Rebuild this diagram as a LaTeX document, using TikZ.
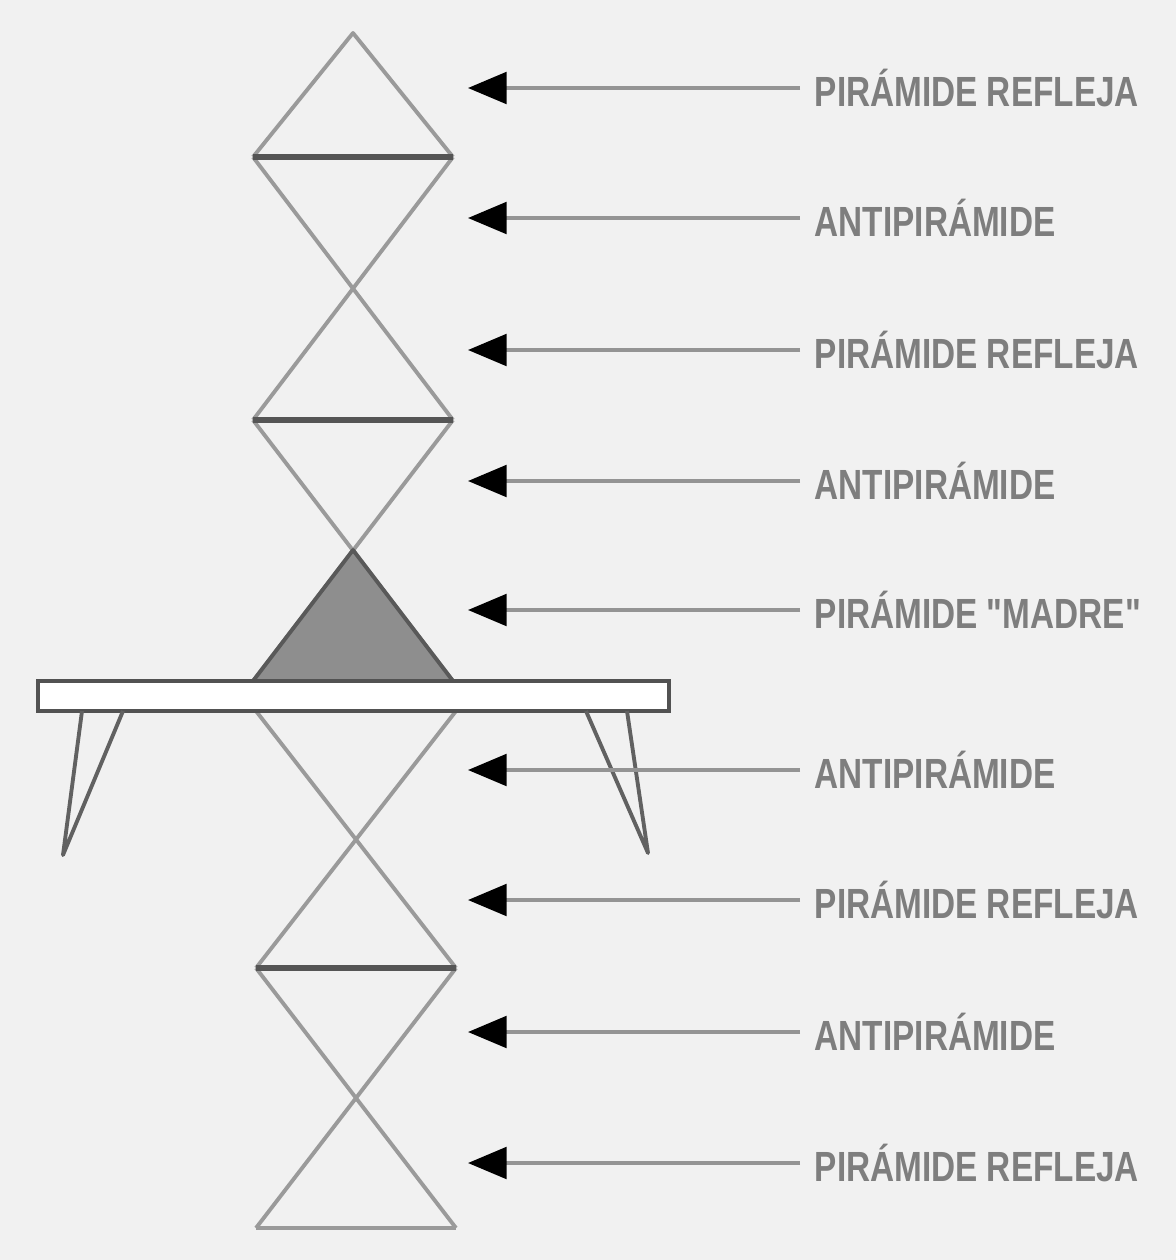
\documentclass[tikz,border=0pt]{standalone}
\usepackage{fontspec}
\setmainfont{Liberation Sans}
\newfontfamily\labfont[FakeStretch=0.79]{Liberation Sans}
\usetikzlibrary{arrows.meta}
\definecolor{paper}{HTML}{F1F1F1}
\definecolor{edgegray}{HTML}{9A9A9A}
\definecolor{bargray}{HTML}{555555}
\definecolor{fillgray}{HTML}{8E8E8E}
\definecolor{txtgray}{HTML}{7E7E7E}
\tikzset{
  pyredge/.style={draw=edgegray,line width=1.1pt,line join=round},
  pyrbar/.style={draw=bargray,line width=1.6pt},
  madre/.style={fill=fillgray,draw=black!65,line width=1.1pt,line join=round},
  tabletop/.style={draw=black!68,fill=white,line width=1.3pt},
  tableleg/.style={draw=black!62,line width=1.1pt,line join=round},
  pointer/.style={-{Triangle[length=11pt,width=9pt,color=black]},draw=black!42,line width=1pt},
  lbl/.style={anchor=west,inner xsep=4pt,inner ysep=0pt,font=\labfont\bfseries\fontsize{12}{13}\selectfont,text=txtgray},
}

\begin{document}
\begin{tikzpicture}[x=0.01cm,y=-0.01cm]
    \fill[paper] (0,0) rectangle (1176,1260);
    % upper column
    \coordinate (apex) at (353,33);
    \coordinate (b1l) at (253,157);
    \coordinate (b1r) at (453,157);
    \coordinate (b2l) at (253,420);
    \coordinate (b2r) at (453,420);
    \coordinate (mtop) at (353,550);
    \coordinate (mbl) at (253,681);
    \coordinate (mbr) at (453,681);
    \draw[pyredge] (b1l) -- (apex) -- (b1r);
    \draw[pyredge] (b1l) -- (b2r) (b1r) -- (b2l);
    \draw[pyredge] (b2l) -- (mbr) (b2r) -- (mbl);
    \filldraw[madre] (mtop) -- (mbl) -- (mbr) -- cycle;
    \draw[pyrbar] (b1l) -- (b1r);
    \draw[pyrbar] (b2l) -- (b2r);
    % lower column
    \coordinate (t2l) at (256,711);
    \coordinate (t2r) at (456,711);
    \coordinate (b3l) at (256,968);
    \coordinate (b3r) at (456,968);
    \coordinate (basel) at (256,1228);
    \coordinate (baser) at (456,1228);
    \draw[pyredge] (t2l) -- (b3r) (t2r) -- (b3l);
    \draw[pyredge] (b3l) -- (baser) (b3r) -- (basel);
    \draw[pyredge] (basel) -- (baser);
    \draw[pyrbar] (b3l) -- (b3r);
    % table
    \draw[tabletop] (38,681) rectangle (669,711);
    \draw[tableleg] (82,711) -- (63,855) -- (123,711);
    \draw[tableleg] (586,711) -- (648,853) -- (627,711);
    % labels
    \node[lbl] (lab1) at (800,88) {PIRÁMIDE REFLEJA};
    \node[lbl] (lab2) at (800,218) {ANTIPIRÁMIDE};
    \node[lbl] (lab3) at (800,350) {PIRÁMIDE REFLEJA};
    \node[lbl] (lab4) at (800,481) {ANTIPIRÁMIDE};
    \node[lbl] (lab5) at (800,610) {PIRÁMIDE "MADRE"};
    \node[lbl] (lab6) at (800,770) {ANTIPIRÁMIDE};
    \node[lbl] (lab7) at (800,900) {PIRÁMIDE REFLEJA};
    \node[lbl] (lab8) at (800,1032) {ANTIPIRÁMIDE};
    \node[lbl] (lab9) at (800,1163) {PIRÁMIDE REFLEJA};
    \coordinate (tip1) at (468,88);
    \coordinate (tip2) at (468,218);
    \coordinate (tip3) at (468,350);
    \coordinate (tip4) at (468,481);
    \coordinate (tip5) at (468,610);
    \coordinate (tip6) at (468,770);
    \coordinate (tip7) at (468,900);
    \coordinate (tip8) at (468,1032);
    \coordinate (tip9) at (468,1163);
    \draw[pointer] (lab1) -- (tip1);
    \draw[pointer] (lab2) -- (tip2);
    \draw[pointer] (lab3) -- (tip3);
    \draw[pointer] (lab4) -- (tip4);
    \draw[pointer] (lab5) -- (tip5);
    \draw[pointer] (lab6) -- (tip6);
    \draw[pointer] (lab7) -- (tip7);
    \draw[pointer] (lab8) -- (tip8);
    \draw[pointer] (lab9) -- (tip9);
\end{tikzpicture}
\end{document}
